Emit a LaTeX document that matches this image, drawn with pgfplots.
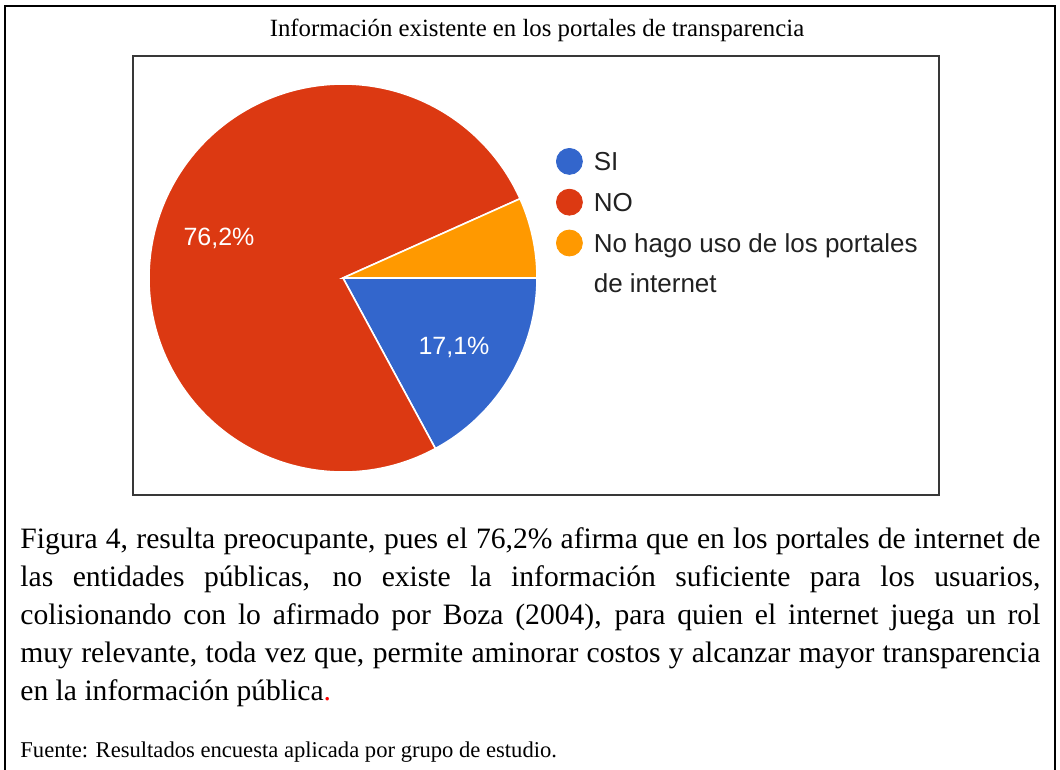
\documentclass[border=0pt]{standalone}
\usepackage{fontspec}
\setmainfont{Liberation Serif}
\newfontfamily\arialfont{Liberation Sans}
\usepackage{pgfplots}
\usepackage{pgfplotstable}
\pgfplotsset{compat=1.18}
\definecolor{siblue}{HTML}{3366CC}
\definecolor{nored}{HTML}{DC3912}
\definecolor{otherorange}{HTML}{FF9900}
\definecolor{legtext}{HTML}{212121}

\pgfplotstableread{
category share
SI 17.1
NO 76.2
Otro 6.7
}\piedata

\begin{document}
\begin{tikzpicture}[x=0.5pt,y=0.5pt]
\path[use as bounding box] (0,0) rectangle (1060,770);
\draw[line width=1pt] (5,0) -- (5,764) -- (1055,764) -- (1055,0);
\node[anchor=base,inner sep=0pt,font=\fontsize{12.4}{15}\selectfont] at (537,733) {Información existente en los portales de transparencia};
\draw[line width=1pt,draw=black!78] (133,275) rectangle (939,714);

\pgfplotstablegetelem{0}{share}\of\piedata \pgfmathsetmacro\sA{\pgfplotsretval}
\pgfplotstablegetelem{1}{share}\of\piedata \pgfmathsetmacro\sB{\pgfplotsretval}
\pgfplotstablegetelem{2}{share}\of\piedata \pgfmathsetmacro\sC{\pgfplotsretval}
\pgfmathsetmacro\angA{-3.6*\sA}
\pgfmathsetmacro\angB{\angA-3.6*\sB}
\pgfmathsetmacro\angC{\angB-3.6*\sC}

\begin{axis}[at={(171.5pt,246pt)}, anchor=center, hide axis, scale only axis,
  width=194pt, height=194pt, xmin=-1, xmax=1, ymin=-1, ymax=1, clip=false,
  legend style={at={(1.049,0.835)}, anchor=north west, draw=none, fill=none,
    inner sep=0pt, outer sep=0pt, row sep=7pt,
    font=\arialfont\fontsize{13}{15}\selectfont, text=legtext,
    nodes={inner sep=0pt, text height=11pt, text depth=2pt},
    /tikz/every odd column/.append style={column sep=5.5pt}},
  legend cell align=left,
  legend image code/.code={\fill[#1] (0pt,0pt) circle[radius=6.5pt];}]
\addlegendimage{siblue}
\addlegendentry{SI}
\addlegendimage{nored}
\addlegendentry{NO}
\addlegendimage{otherorange}
\addlegendentry{No hago uso de los portales}
\addlegendimage{empty legend}
\addlegendentry{de internet}

\fill[siblue, draw=white, line width=0.8pt] (axis cs:0,0) -- (axis cs:1,0) arc[start angle=0, end angle=\angA, radius=97pt] -- cycle;
\fill[nored, draw=white, line width=0.8pt] (axis cs:0,0) -- (axis cs:{cos(\angA)},{sin(\angA)}) arc[start angle=\angA, end angle=\angB, radius=97pt] -- cycle;
\fill[otherorange, draw=white, line width=0.8pt] (axis cs:0,0) -- (axis cs:{cos(\angB)},{sin(\angB)}) arc[start angle=\angB, end angle=\angC, radius=97pt] -- cycle;

\node[text=white, font=\arialfont\fontsize{12.5}{15}\selectfont] at (axis cs:-0.639,0.206) {76,2\%};
\node[text=white, font=\arialfont\fontsize{12.5}{15}\selectfont] at (axis cs:0.572,-0.356) {17,1\%};
\end{axis}

\node[anchor=base west, inner sep=0pt, text width=510pt, align=justify, font=\fontsize{14.8}{19}\selectfont] at (20,221) {Figura 4, resulta preocupante, pues el 76,2\% afirma que en los portales de internet de\linebreak las entidades públicas, no existe la información suficiente para los usuarios,\linebreak colisionando con lo afirmado por Boza (2004), para quien el internet juega un rol\linebreak muy relevante, toda vez que, permite aminorar costos y alcanzar mayor transparencia\linebreak en la información pública{\color{red}.}};

\node[anchor=base west, inner sep=0pt, font=\fontsize{11.3}{13}\selectfont] at (20,12) {Fuente: Resultados encuesta aplicada por grupo de estudio.};
\end{tikzpicture}
\end{document}
